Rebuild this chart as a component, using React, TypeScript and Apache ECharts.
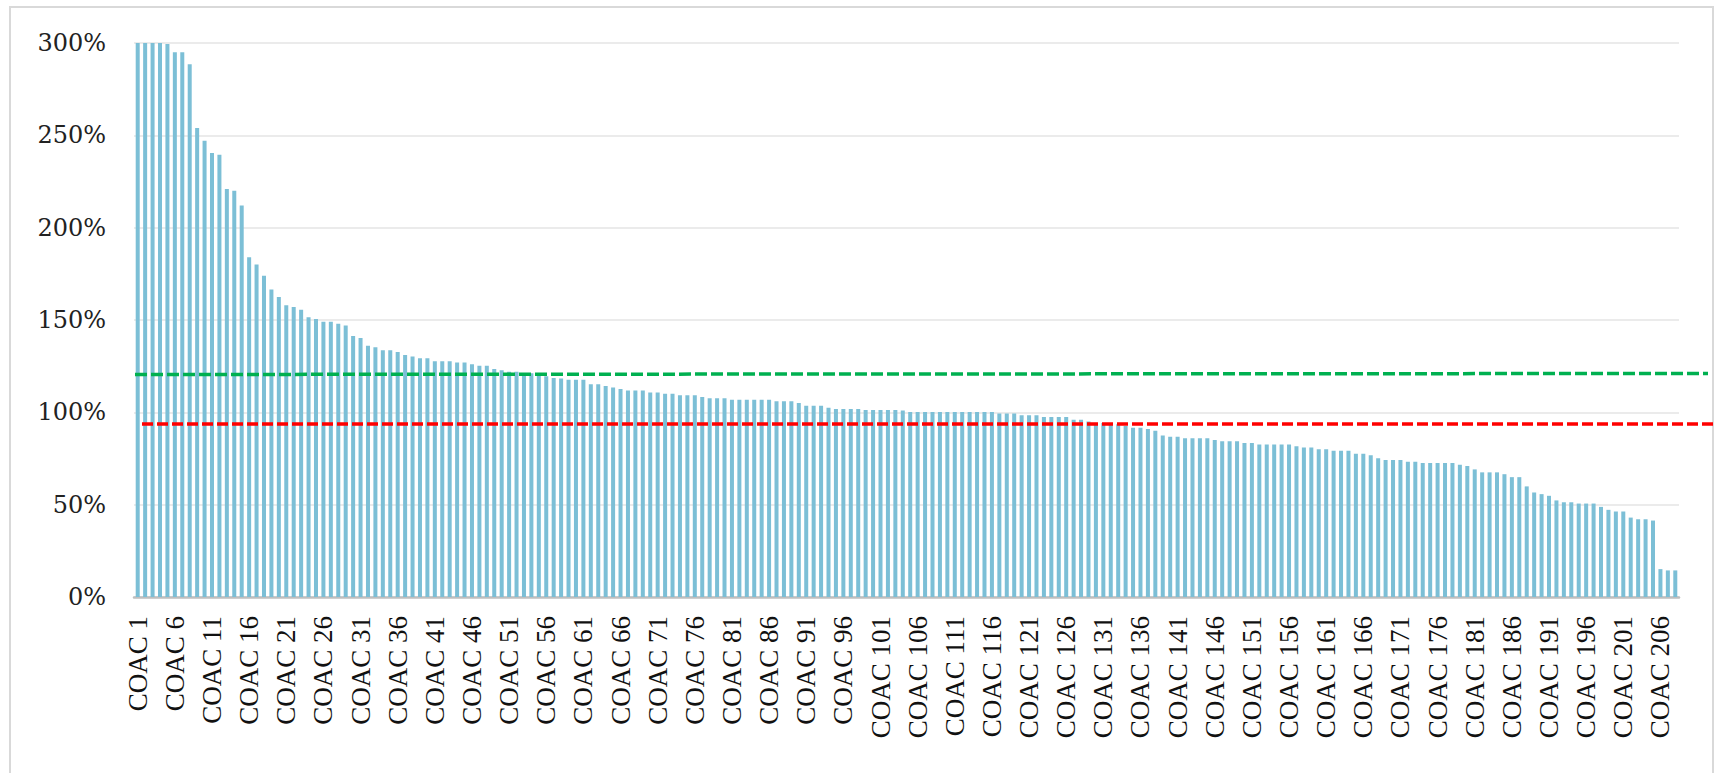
import React, { useEffect, useRef } from "react";
import * as echarts from "echarts";

// Ratio values (%) for COAC 1 .. COAC 208
const VALUES_001_050 = [
  300, 300, 300, 300, 299.5, 295, 295, 288.5, 254, 247,
  240.5, 239.5, 221, 220, 212, 184, 180, 174, 166.5, 162.5,
  158, 157, 155.5, 151.5, 150.5, 149, 149, 148, 147, 141.3,
  140.3, 136, 135.3, 133.6, 133.6, 132.7, 131, 130.2, 129.3, 129.3,
  127.7, 127.7, 127.7, 127, 127, 126, 125.2, 125.2, 123.5, 122.8,
];
const VALUES_051_100 = [
  122, 122, 121.2, 121.2, 120.3, 119.5, 118.6, 118.3, 117.7, 117.7,
  117.7, 115.2, 115.2, 114.3, 113.4, 112.6, 111.8, 111.8, 111.8, 110.8,
  110.8, 110, 110, 109.2, 109.2, 109.2, 108.3, 107.6, 107.6, 107.6,
  106.8, 106.8, 106.8, 106.8, 106.8, 106.8, 106, 106, 106, 105,
  103.5, 103.5, 103.5, 102.5, 101.8, 101.8, 101.8, 101.8, 101.2, 101.2,
];
const VALUES_101_150 = [
  101.2, 101.2, 101.2, 101, 100.2, 100.2, 100.2, 100.2, 100.2, 100.2,
  100.2, 100.2, 100.2, 100.2, 100.2, 100.2, 99.4, 99.4, 99.4, 98.4,
  98.4, 98.4, 97.5, 97.5, 97.5, 97.5, 96, 96, 95, 94.2,
  94.2, 94, 93.6, 92.6, 91.7, 91.7, 91, 90, 87.5, 86.8,
  86.8, 85.9, 85.9, 85.9, 85.9, 85, 84.3, 84.3, 84.3, 83.4,
];
const VALUES_151_208 = [
  83.4, 82.6, 82.6, 82.6, 82.6, 82.6, 81.7, 81, 81, 80,
  80, 79.2, 79.2, 79.2, 77.6, 77.6, 76.7, 75.1, 74.2, 74.2,
  74.2, 73.2, 73.2, 72.5, 72.5, 72.5, 72.5, 72.5, 71.6, 70.9,
  69.1, 67.5, 67.5, 67.5, 66.5, 64.9, 64.9, 59.9, 56.6, 55.7,
  54.8, 52.3, 51.3, 51.3, 50.6, 50.6, 50.6, 48.8, 47.2, 46.3,
  46.3, 43, 42.1, 42.1, 41.4, 15.1, 14.4, 14.4,
];
const VALUES = [...VALUES_001_050, ...VALUES_051_100, ...VALUES_101_150, ...VALUES_151_208];
const CATEGORIES = VALUES.map((_, i) => `COAC ${i + 1}`);

// Y axis ticks
const Y_MIN = 0;
const Y_MAX = 300;
const Y_STEP = 50;

// Reference levels (%)
const GREEN_LEVEL = 120.5;
const RED_LEVEL = 93.7;

export default function App() {
  const ref = useRef<HTMLDivElement>(null);

  useEffect(() => {
    if (!ref.current) return;
    const chart = echarts.init(ref.current, null, { renderer: "svg" });
    const gridLeft = 134;
    chart.setOption({
      animation: false,
      backgroundColor: "#ffffff",
      grid: { left: gridLeft, right: 37, top: 43, bottom: 176, containLabel: false },
      xAxis: {
        type: "category",
        data: CATEGORIES,
        axisTick: { show: false },
        axisLine: { show: true, lineStyle: { color: "#bfbfbf", width: 2.5 } },
        axisLabel: {
          interval: 4,
          rotate: 90,
          margin: 19,
          fontFamily: "Liberation Serif",
          fontSize: 27,
          color: "#111111",
        },
      },
      yAxis: {
        type: "value",
        min: Y_MIN,
        max: Y_MAX,
        interval: Y_STEP,
        axisLine: { show: false },
        axisTick: { show: false },
        splitLine: { lineStyle: { color: "#ebebeb", width: 2 } },
        axisLabel: {
          formatter: "{value}%",
          margin: 28,
          fontFamily: "DejaVu Serif",
          fontSize: 24,
          color: "#222222",
        },
      },
      series: [
        {
          type: "bar",
          data: VALUES,
          barCategoryGap: "46%",
          itemStyle: { color: "#7cbfd6" },
        },
      ],
    });

    const yGreen = chart.convertToPixel({ yAxisIndex: 0 }, GREEN_LEVEL) as number;
    const yRed = chart.convertToPixel({ yAxisIndex: 0 }, RED_LEVEL) as number;

    chart.setOption({
      graphic: [
        {
          type: "rect",
          shape: { x: 10, y: 7, width: 1703, height: 820 },
          style: { fill: "none", stroke: "#d9d9d9", lineWidth: 2 },
          silent: true,
        },
        {
          type: "line",
          shape: { x1: gridLeft + 1, y1: yGreen, x2: 1708, y2: yGreen - 1 },
          style: { stroke: "#00b050", lineWidth: 3.5, lineDash: [12, 4] },
          silent: true,
          z: 10,
        },
        {
          type: "line",
          shape: { x1: gridLeft + 8, y1: yRed, x2: 1716, y2: yRed },
          style: { stroke: "#ff0000", lineWidth: 3.5, lineDash: [11, 4] },
          silent: true,
          z: 10,
        },
      ],
    });

    return () => chart.dispose();
  }, []);

  return (
    <div
      ref={ref}
      style={{ position: "fixed", left: 0, top: 0, width: 1716, height: 773, background: "#fff" }}
    />
  );
}
